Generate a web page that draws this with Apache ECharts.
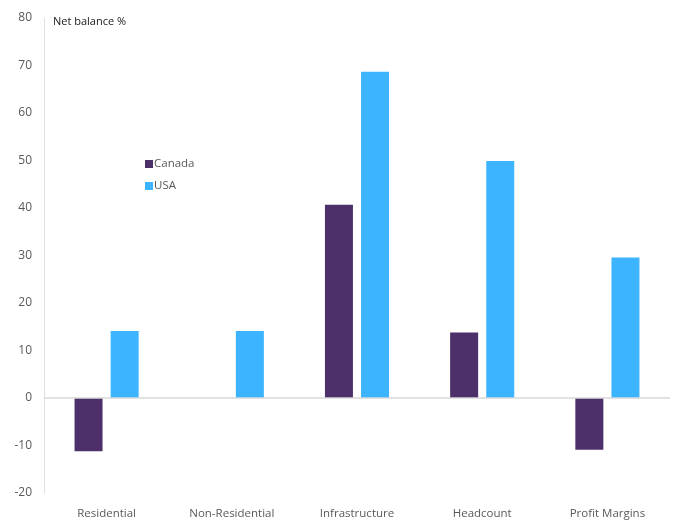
<!DOCTYPE html>
<html>
<head>
<meta charset="utf-8">
<script src="https://cdn.jsdelivr.net/npm/echarts@6/dist/echarts.min.js"></script>
<style>
  html, body { margin: 0; padding: 0; background: #ffffff; }
  #chart { width: 677px; height: 523px; }
</style>
</head>
<body>
<div id="chart"></div>
<script>
// Survey categories and net balance readings (%)
const categories = ['Residential', 'Non-Residential', 'Infrastructure', 'Headcount', 'Profit Margins'];
const canada = [-11.2, null, 40.7, 13.8, -10.9];
const usa = [14.1, 14.1, 68.7, 49.9, 29.6];
const yTicks = { min: -20, max: 80, interval: 10 };

const font = '"Open Sans", "Noto Sans", sans-serif';
const chart = echarts.init(document.getElementById('chart'), null, { renderer: 'canvas' });

chart.setOption({
  animation: false,
  backgroundColor: '#ffffff',
  textStyle: { fontFamily: font },
  title: {
    text: 'Net balance %',
    left: 48,
    top: 11,
    textStyle: { fontFamily: font, fontSize: 11, fontWeight: 'normal', color: '#1a1a1a' }
  },
  legend: {
    orient: 'vertical',
    left: 140,
    top: 153,
    itemWidth: 8,
    itemHeight: 8,
    itemGap: 10,
    icon: 'rect',
    textStyle: { fontFamily: font, fontSize: 11.5, color: '#595959', padding: [0, 0, 0, -4] },
    data: ['Canada', 'USA']
  },
  grid: { left: 44, right: 7, top: 18, bottom: 30 },
  xAxis: {
    type: 'category',
    data: categories,
    axisLine: { show: false, onZero: false },
    axisTick: { show: false },
    axisLabel: { color: '#595959', fontSize: 11.5, margin: 15, fontFamily: font }
  },
  yAxis: {
    type: 'value',
    min: yTicks.min,
    max: yTicks.max,
    interval: yTicks.interval,
    axisLine: { show: true, lineStyle: { color: '#e0e0e0', width: 1 } },
    axisTick: { show: false },
    splitLine: { show: false },
    axisLabel: { color: '#595959', fontSize: 12, margin: 12, fontFamily: font }
  },
  series: [
    {
      name: 'Canada',
      type: 'bar',
      data: canada,
      barWidth: 28,
      barGap: '29%',
      itemStyle: { color: '#4d3069' },
      markLine: {
        silent: true,
        symbol: 'none',
        label: { show: false },
        lineStyle: { color: '#d9d9d9', width: 1.5, type: 'solid' },
        data: [{ yAxis: 0 }]
      }
    },
    {
      name: 'USA',
      type: 'bar',
      data: usa,
      barWidth: 28,
      itemStyle: { color: '#3db4ff' }
    }
  ]
});
</script>
</body>
</html>
